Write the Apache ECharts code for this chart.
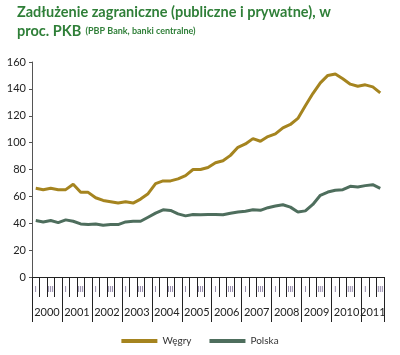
<!DOCTYPE html>
<html><head><meta charset="utf-8">
<script src="https://cdn.jsdelivr.net/npm/echarts@6/dist/echarts.min.js"></script>
<style>html,body{margin:0;padding:0;background:#fff}#c{width:400px;height:355px}</style>
</head><body><div id="c"></div>
<script>
const quarters = [];
const years = ['2000','2001','2002','2003','2004','2005','2006','2007','2008','2009','2010','2011'];
const qNames = ['I','II','III','IV'];
for (let i = 0; i < 47; i++) quarters.push(qNames[i % 4]);
const wegry = [66,65,66,65,65,69,63,63,59,57,56,55,56,55,58,62,69.5,71.5,71.5,73,75.5,80,80,81.5,85,86.5,90.5,96.5,99,103,101,104.5,106.5,111,113.5,118,127.5,136.5,144.5,150,151,147.5,143.5,142,143,141.5,137];
const polska = [42,41,42,40.5,42.5,41.5,39.5,39,39.5,38.5,39,39,41,41.5,41.5,44.5,47.5,50,49.5,47,45.5,46.5,46.3,46.5,46.5,46.3,47.5,48.3,49,50,49.6,51.6,52.8,53.8,52,48.4,49.2,54,60.8,63.2,64.5,65,67.5,67,68,68.7,66];
const yearTicks = [0,4,8,12,16,20,24,28,32,36,40,44,47];
const yearLabelPos = [2,6,10,14,18,22,26,30,34,38,42,45.5];

const chart = echarts.init(document.getElementById('c'), null, {renderer:'canvas'});
const FONT = 'Lato';
const GREEN = '#2f7f38';
chart.setOption({
  animation:false,
  backgroundColor:'#fff',
  textStyle:{fontFamily:FONT},
  title:{
    left:17, top:3, padding:0,
    text:'{a|Zadłużenie zagraniczne (publiczne i prywatne), w}\n{a|proc. PKB} {b|(PBP Bank, banki centralne)}',
    textStyle:{
      rich:{
        a:{fontFamily:FONT,fontWeight:'bold',fontSize:14.5,color:GREEN,lineHeight:19},
        b:{fontFamily:FONT,fontWeight:'bold',fontSize:9,color:GREEN,lineHeight:19}
      }
    }
  },
  grid:{left:32,right:16,top:62,bottom:78,containLabel:false},
  legend:{
    bottom:4,left:'center',
    icon:'rect',itemWidth:36,itemHeight:4,itemGap:18,
    textStyle:{fontFamily:FONT,fontSize:10,color:'#333'},
    data:['Węgry','Polska']
  },
  xAxis:[{
    type:'category',data:quarters,boundaryGap:true,
    axisLine:{lineStyle:{color:'#222',width:1}},
    axisTick:{show:true,interval:0,length:20,lineStyle:{color:'#222'}},
    axisLabel:{interval:1,fontSize:7,color:'#6a5a8a',margin:9,fontFamily:FONT},
    splitLine:{show:false}
  },{
    type:'value',min:0,max:47,position:'bottom',
    axisLine:{show:false},
    axisTick:{show:true,customValues:yearTicks,length:45,lineStyle:{color:'#222'}},
    axisLabel:{show:true,customValues:yearLabelPos,margin:30,fontSize:11,color:'#222',fontFamily:FONT,
      formatter:function(v){return years[Math.floor(v/4)];}},
    splitLine:{show:false}
  }],
  yAxis:{
    type:'value',min:0,max:160,interval:20,
    axisLine:{show:true,lineStyle:{color:'#555'}},
    axisTick:{show:true,length:3,lineStyle:{color:'#555'}},
    axisLabel:{fontSize:11,color:'#222',margin:6,fontFamily:FONT},
    splitLine:{show:false}
  },
  series:[
    {name:'Węgry',type:'line',data:wegry,xAxisIndex:0,showSymbol:false,symbol:'none',
      lineStyle:{color:'#a5841f',width:3},itemStyle:{color:'#a5841f'}},
    {name:'Polska',type:'line',data:polska,xAxisIndex:0,showSymbol:false,symbol:'none',
      lineStyle:{color:'#4e6e5d',width:3},itemStyle:{color:'#4e6e5d'}}
  ]
});
</script></body></html>
